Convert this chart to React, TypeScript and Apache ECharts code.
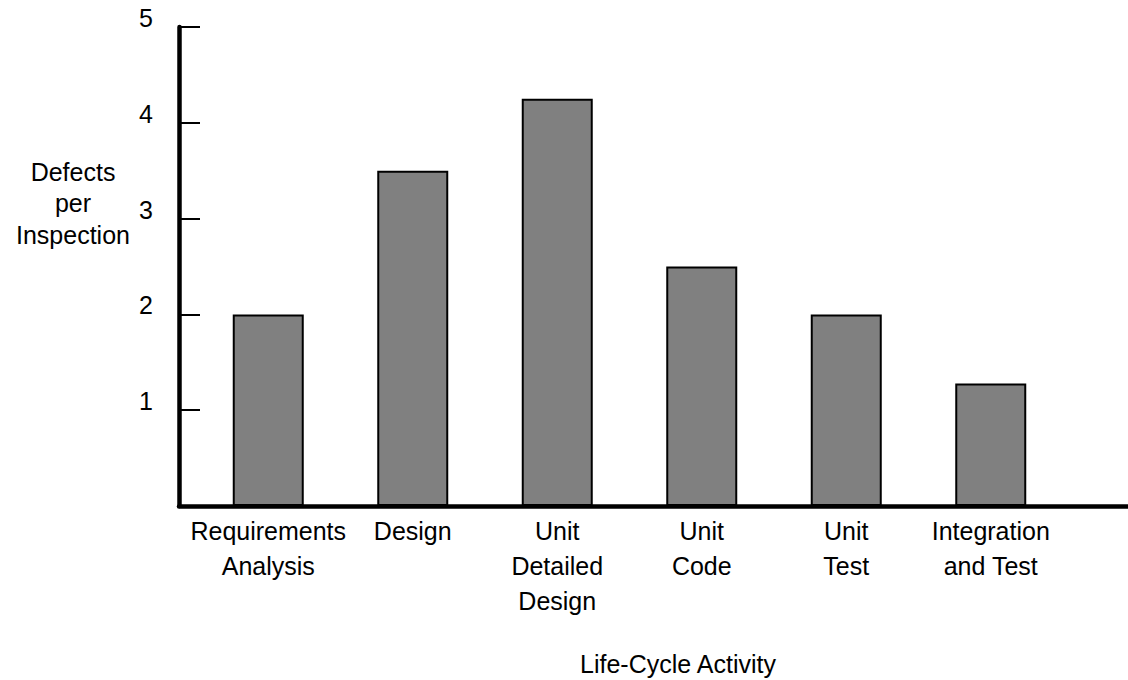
import React, { useEffect, useRef } from "react";
import * as echarts from "echarts";

const categories = [
  "Requirements\nAnalysis",
  "Design",
  "Unit\nDetailed\nDesign",
  "Unit\nCode",
  "Unit\nTest",
  "Integration\nand Test",
];
const values = [2.0, 3.5, 4.25, 2.5, 2.0, 1.28];
const yMin = 0;
const yMax = 5;
const yInterval = 1;
const yAxisTitle = "Defects\nper\nInspection";
const xAxisTitle = "Life-Cycle Activity";

const FONT = "'Liberation Sans', Arial, Helvetica, sans-serif";
const FS = 25;

export default function App() {
  const ref = useRef<HTMLDivElement>(null);

  useEffect(() => {
    if (!ref.current) return;
    const chart = echarts.init(ref.current, null, { renderer: "svg" });
    chart.setOption({
      animation: false,
      backgroundColor: "#ffffff",
      textStyle: { fontFamily: FONT },
      grid: [
        { left: 196, top: 27, width: 867, height: 479 },
        { left: 179, top: 27, right: 0, height: 479 },
      ],
      xAxis: [
        {
          type: "category",
          gridIndex: 0,
          data: categories,
          axisLine: { show: false },
          axisTick: { show: false },
          axisLabel: {
            interval: 0,
            margin: 7,
            fontSize: FS,
            lineHeight: 35,
            color: "#000",
            fontFamily: FONT,
            align: "center",
          },
        },
        {
          type: "value",
          gridIndex: 1,
          min: 0,
          max: 1,
          axisLine: { show: true, lineStyle: { color: "#000", width: 4.5 } },
          axisTick: { show: false },
          axisLabel: { show: false },
          splitLine: { show: false },
        },
      ],
      yAxis: [
        {
          type: "value",
          gridIndex: 0,
          min: yMin,
          max: yMax,
          show: false,
          splitLine: { show: false },
        },
        {
          type: "value",
          gridIndex: 1,
          min: yMin,
          max: yMax,
          interval: yInterval,
          axisLine: { show: true, lineStyle: { color: "#000", width: 4.5 } },
          axisTick: {
            show: true,
            inside: true,
            length: 21,
            lineStyle: { color: "#000", width: 2 },
          },
          axisLabel: {
            margin: 26,
            fontSize: FS,
            color: "#000",
            fontFamily: FONT,
            verticalAlign: "bottom",
            lineHeight: 18,
            formatter: (v: number) => (v === 0 ? "" : String(v)),
          },
          splitLine: { show: false },
        },
      ],
      series: [
        {
          type: "bar",
          xAxisIndex: 0,
          yAxisIndex: 0,
          data: values,
          barWidth: 71,
          itemStyle: {
            color: "#808080",
            borderColor: "#000",
            borderWidth: 2,
          },
        },
      ],
      graphic: [
        {
          type: "text",
          x: 73,
          y: 203,
          style: {
            text: yAxisTitle,
            font: `${FS}px ${FONT}`,
            fill: "#000",
            align: "center",
            verticalAlign: "middle",
            lineHeight: 31.5,
          },
        },
        {
          type: "text",
          x: 678,
          y: 664,
          style: {
            text: xAxisTitle,
            font: `${FS}px ${FONT}`,
            fill: "#000",
            align: "center",
            verticalAlign: "middle",
          },
        },
      ],
    });
    return () => chart.dispose();
  }, []);

  return (
    <div
      ref={ref}
      style={{ position: "absolute", left: 0, top: 0, width: 1128, height: 680 }}
    />
  );
}
